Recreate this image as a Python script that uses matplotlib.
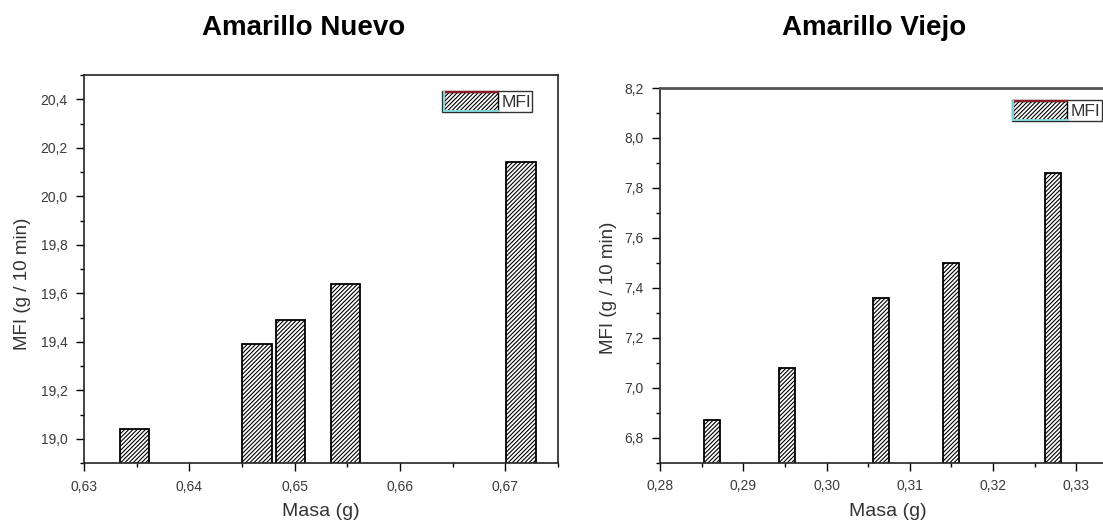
import matplotlib
matplotlib.use("Agg")
import matplotlib.pyplot as plt
from matplotlib.patches import Patch, Rectangle
from matplotlib.lines import Line2D
from matplotlib.legend_handler import HandlerBase
from matplotlib.ticker import MultipleLocator, FuncFormatter

plt.rcParams['font.family'] = ['Liberation Sans', 'DejaVu Sans']
plt.rcParams['hatch.linewidth'] = 0.8

# Amarillo Nuevo
nuevo_masa = [0.6348, 0.6464, 0.6496, 0.6548, 0.6715]
nuevo_mfi = [19.04, 19.39, 19.49, 19.64, 20.14]

# Amarillo Viejo
viejo_masa = [0.2862, 0.2952, 0.3065, 0.3149, 0.3272]
viejo_mfi = [6.87, 7.08, 7.36, 7.50, 7.86]

titles = ["Amarillo Nuevo", "Amarillo Viejo"]
x_label = "Masa (g)"
y_label = "MFI (g / 10 min)"
legend_label = "MFI"

HATCH = '////////'


class HatchKey(HandlerBase):
    """Hatched legend key with a dark top edge and light cyan lower/left edges."""

    def create_artists(self, legend, orig_handle, xdescent, ydescent,
                       width, height, fontsize, trans):
        x0, y0 = -xdescent, -ydescent
        rect = Rectangle((x0, y0), width, height, facecolor='white',
                         edgecolor='black', hatch=HATCH, linewidth=1,
                         transform=trans)
        top = Line2D([x0, x0 + width], [y0 + height] * 2, color='#8b1c24',
                     linewidth=1.6, transform=trans)
        bottom = Line2D([x0, x0 + width], [y0, y0], color='#7fdada',
                        linewidth=1.4, transform=trans)
        left = Line2D([x0, x0], [y0, y0 + height], color='#7fdada',
                      linewidth=1.4, transform=trans)
        return [rect, top, bottom, left]


fig = plt.figure(figsize=(11.03, 5.22), dpi=100)

ax1 = fig.add_axes([0.0762, 0.1130, 0.4297, 0.7433])
ax2 = fig.add_axes([0.5984, 0.1136, 0.4152, 0.7178])

comma = FuncFormatter(lambda v, p: f"{v:.2f}".replace('.', ','))
comma1 = FuncFormatter(lambda v, p: f"{v:.1f}".replace('.', ','))


def style(ax, xlim, ylim, xmajor, ymajor, xlab_pos, ylab_pos):
    ax.set_xlim(*xlim)
    ax.set_ylim(*ylim)
    ax.xaxis.set_major_locator(MultipleLocator(xmajor))
    ax.xaxis.set_minor_locator(MultipleLocator(xmajor / 2))
    ax.yaxis.set_major_locator(MultipleLocator(ymajor))
    ax.yaxis.set_minor_locator(MultipleLocator(ymajor / 2))
    ax.xaxis.set_major_formatter(comma)
    ax.yaxis.set_major_formatter(comma1)
    ax.tick_params(which='major', direction='out', length=6, width=1,
                   labelsize=10, labelcolor='#3a3a3a', pad=6)
    ax.tick_params(which='minor', direction='out', length=3, width=1)
    for s in ax.spines.values():
        s.set_linewidth(1.2)
        s.set_color('#222222')
    xl = ax.set_xlabel(x_label, fontsize=14, color='#333333')
    yl = ax.set_ylabel(y_label, fontsize=13.5, color='#333333')
    ax.xaxis.set_label_coords(*xlab_pos)
    ax.yaxis.set_label_coords(*ylab_pos)
    xl.set_verticalalignment('center')
    yl.set_verticalalignment('center')


ax1.bar(nuevo_masa, nuevo_mfi, width=0.0028, bottom=0, facecolor='white',
        edgecolor='black', linewidth=1.3, hatch=HATCH)
style(ax1, (0.63, 0.675), (18.9, 20.5), 0.01, 0.2,
      (0.5, -0.124), (-0.129, 0.463))

ax2.bar(viejo_masa, viejo_mfi, width=0.0019, bottom=0, facecolor='white',
        edgecolor='black', linewidth=1.3, hatch=HATCH)
style(ax2, (0.28, 0.335), (6.7, 8.2), 0.01, 0.2,
      (0.498, -0.129), (-0.1135, 0.466))
ax2.spines['top'].set_linewidth(2)
ax2.spines['top'].set_color('#555555')

handle = Patch(facecolor='white', edgecolor='black', hatch=HATCH, linewidth=1)
leg_kw = dict(fontsize=12.5, frameon=True, fancybox=False, shadow=False,
              handlelength=3.1, handleheight=1.25, handletextpad=0.2,
              borderpad=0.08, borderaxespad=0, labelcolor='#333333',
              handler_map={Patch: HatchKey()})
l1 = ax1.legend([handle], [legend_label], loc='upper right',
                bbox_to_anchor=(532.3 / 1103, 1 - 91 / 522),
                bbox_transform=fig.transFigure, **leg_kw)
l2 = ax2.legend([handle], [legend_label], loc='upper right',
                bbox_to_anchor=(1101.7 / 1103, 1 - 100 / 522),
                bbox_transform=fig.transFigure, **leg_kw)
for lg in (l1, l2):
    lg.get_frame().set_edgecolor('black')
    lg.get_frame().set_linewidth(1)

fig.text(304 / 1103, 1 - 28 / 522, titles[0], fontsize=20, fontweight='bold',
         ha='center', va='center')
fig.text(874 / 1103, 1 - 28 / 522, titles[1], fontsize=20, fontweight='bold',
         ha='center', va='center')

fig.savefig("out.png", dpi=100)
